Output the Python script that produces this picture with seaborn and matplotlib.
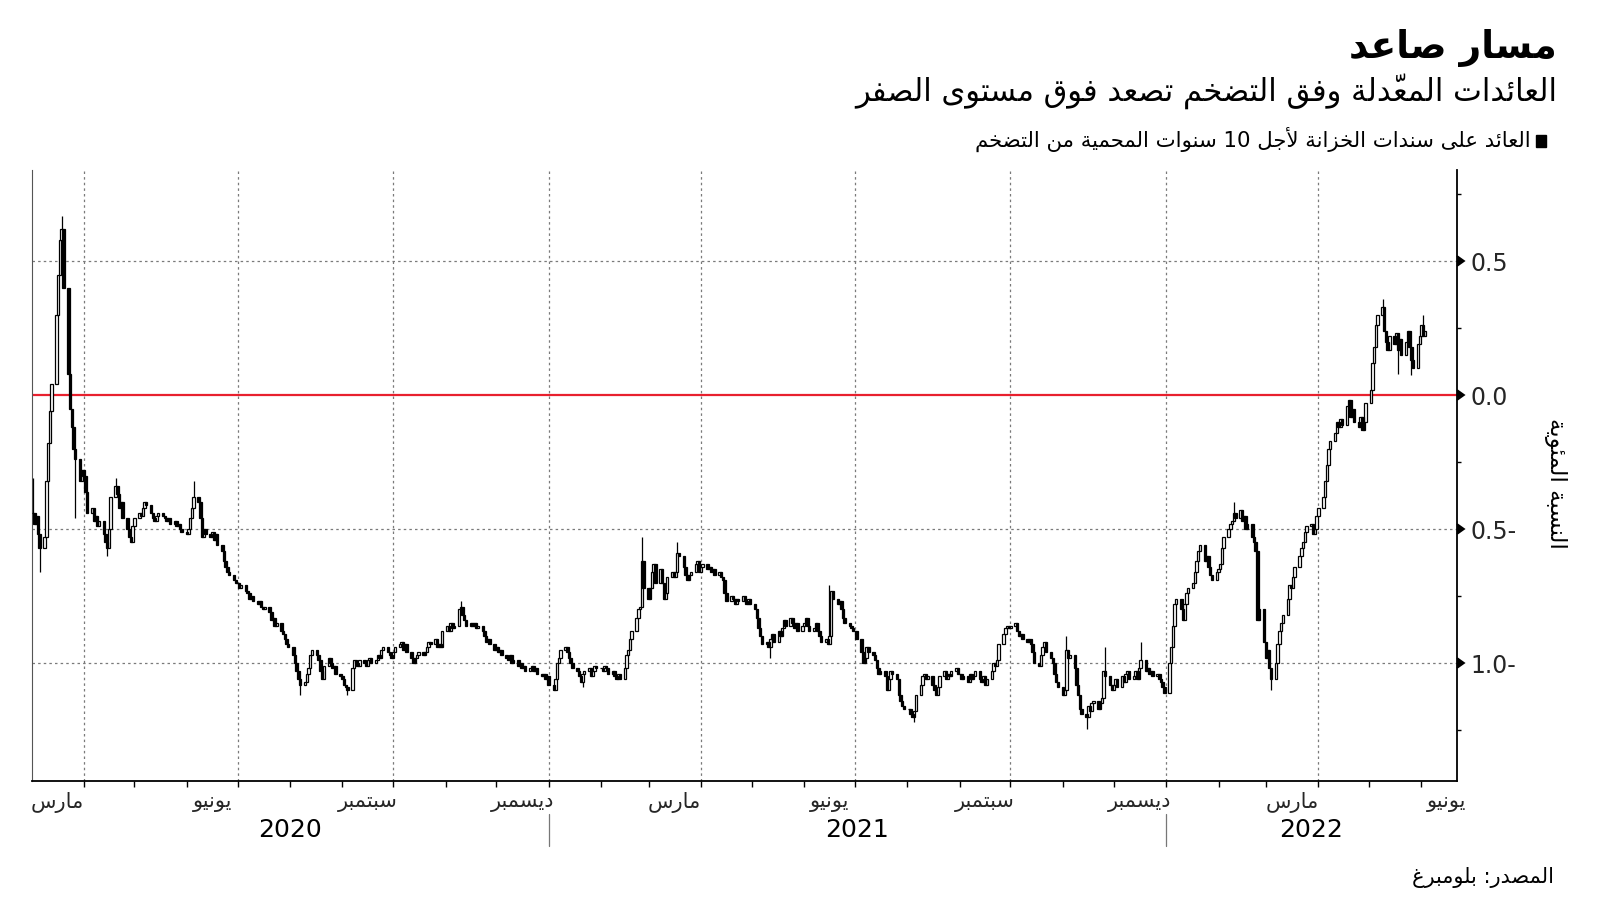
import numpy as np
import pandas as pd
import matplotlib
matplotlib.use("Agg")
import matplotlib.pyplot as plt
import matplotlib.dates as mdates
import matplotlib.transforms as mtransforms
from matplotlib.patches import Rectangle
import seaborn as sns

# ------------------------------------------------------------------ data
# daily closes of the 10-year TIPS yield (%), one list per month (business days)
c2020_03 = [-0.44, -0.48, -0.45, -0.52, -0.57, -0.53, -0.32, -0.18, -0.06, 0.04, 0.30, 0.45, 0.58, 0.62, 0.40, 0.08, -0.05, -0.12, -0.20, -0.24, -0.32, -0.28]
c2020_04 = [-0.30, -0.36, -0.44, -0.42, -0.47, -0.45, -0.49, -0.47, -0.52, -0.55, -0.57, -0.50, -0.38, -0.34, -0.37, -0.42, -0.40, -0.46, -0.50, -0.53, -0.55, -0.49]
c2020_05 = [-0.46, -0.44, -0.45, -0.42, -0.40, -0.41, -0.44, -0.46, -0.47, -0.45, -0.44, -0.45, -0.46, -0.47, -0.46, -0.48, -0.47, -0.49, -0.48, -0.50, -0.51]
c2020_06 = [-0.52, -0.50, -0.46, -0.42, -0.38, -0.40, -0.46, -0.53, -0.50, -0.52, -0.53, -0.51, -0.54, -0.52, -0.56, -0.58, -0.62, -0.64, -0.66, -0.67, -0.69, -0.70]
c2020_07 = [-0.70, -0.72, -0.71, -0.73, -0.74, -0.76, -0.75, -0.77, -0.78, -0.77, -0.79, -0.80, -0.79, -0.81, -0.84, -0.83, -0.86, -0.85, -0.88, -0.89, -0.91, -0.93, -0.94]
c2020_08 = [-0.97, -1.00, -1.03, -1.06, -1.08, -1.07, -1.04, -1.02, -0.97, -0.95, -0.97, -0.99, -1.03, -1.06, -1.01, -0.98, -1.00, -1.02, -1.01, -1.04, -1.05]
c2020_09 = [-1.06, -1.08, -1.09, -1.10, -1.02, -0.99, -1.00, -1.01, -0.99, -1.00, -1.01, -0.99, -0.98, -1.00, -0.99, -0.97, -0.98, -0.95, -0.94, -0.96, -0.97, -0.98]
c2020_10 = [-0.96, -0.94, -0.93, -0.92, -0.95, -0.93, -0.96, -0.98, -1.00, -0.98, -0.97, -0.96, -0.97, -0.96, -0.94, -0.92, -0.93, -0.91, -0.94, -0.93, -0.94, -0.88]
c2020_11 = [-0.86, -0.88, -0.85, -0.87, -0.86, -0.80, -0.79, -0.82, -0.84, -0.86, -0.85, -0.86, -0.85, -0.87, -0.86, -0.88, -0.90, -0.92, -0.91, -0.93, -0.95]
c2020_12 = [-0.94, -0.96, -0.95, -0.97, -0.98, -0.99, -0.97, -1.00, -0.99, -1.01, -1.00, -1.02, -1.01, -1.03, -1.02, -1.01, -1.03, -1.02, -1.04, -1.05, -1.04, -1.06, -1.05]
c2021_01 = [-1.08, -1.10, -1.06, -1.00, -0.98, -0.95, -0.94, -0.96, -0.98, -1.00, -1.02, -1.03, -1.05, -1.07, -1.04, -1.03, -1.02, -1.05, -1.03, -1.01, -1.02]
c2021_02 = [-1.02, -1.03, -1.01, -1.02, -1.04, -1.03, -1.05, -1.06, -1.04, -1.06, -1.02, -0.97, -0.95, -0.91, -0.88, -0.83, -0.80, -0.79, -0.62, -0.72]
c2021_03 = [-0.76, -0.72, -0.66, -0.63, -0.70, -0.65, -0.70, -0.76, -0.74, -0.68, -0.66, -0.68, -0.66, -0.59, -0.60, -0.64, -0.67, -0.69, -0.67, -0.66, -0.63, -0.62, -0.66]
c2021_04 = [-0.64, -0.63, -0.65, -0.64, -0.66, -0.65, -0.67, -0.66, -0.68, -0.69, -0.74, -0.77, -0.75, -0.76, -0.78, -0.76, -0.77, -0.75, -0.77, -0.78, -0.76, -0.78]
c2021_05 = [-0.80, -0.83, -0.87, -0.90, -0.93, -0.92, -0.94, -0.91, -0.89, -0.92, -0.88, -0.90, -0.87, -0.84, -0.86, -0.83, -0.85, -0.87, -0.85, -0.88, -0.86]
c2021_06 = [-0.85, -0.83, -0.86, -0.88, -0.87, -0.85, -0.88, -0.90, -0.92, -0.91, -0.93, -0.90, -0.73, -0.76, -0.78, -0.77, -0.80, -0.83, -0.85, -0.86, -0.87, -0.88]
c2021_07 = [-0.88, -0.91, -0.96, -1.00, -0.98, -0.94, -0.96, -0.97, -0.99, -1.02, -1.04, -1.03, -1.05, -1.10, -1.06, -1.03, -1.04, -1.06, -1.12, -1.14, -1.16, -1.17]
c2021_08 = [-1.17, -1.19, -1.20, -1.18, -1.12, -1.08, -1.05, -1.04, -1.06, -1.05, -1.08, -1.10, -1.12, -1.09, -1.05, -1.03, -1.06, -1.04, -1.05, -1.03, -1.02, -1.04]
c2021_09 = [-1.04, -1.06, -1.05, -1.07, -1.04, -1.06, -1.05, -1.03, -1.06, -1.07, -1.05, -1.08, -1.06, -1.03, -1.00, -1.01, -0.99, -0.93, -0.89, -0.87, -0.86, -0.87]
c2021_10 = [-0.86, -0.85, -0.88, -0.90, -0.89, -0.91, -0.92, -0.91, -0.93, -0.96, -1.00, -1.01, -0.97, -0.94, -0.92, -0.96, -0.98, -1.00, -1.04, -1.07, -1.09]
c2021_11 = [-1.12, -1.10, -0.95, -0.98, -0.97, -1.02, -1.08, -1.12, -1.17, -1.19, -1.20, -1.16, -1.18, -1.15, -1.14, -1.17, -1.15, -1.13, -1.03, -1.05, -1.08, -1.10]
c2021_12 = [-1.08, -1.06, -1.09, -1.05, -1.07, -1.04, -1.03, -1.06, -1.05, -1.03, -1.06, -1.02, -0.99, -1.03, -1.02, -1.04, -1.03, -1.05, -1.04, -1.06, -1.07, -1.09, -1.11]
c2022_01 = [-1.00, -0.94, -0.86, -0.78, -0.76, -0.80, -0.84, -0.78, -0.74, -0.72, -0.70, -0.66, -0.62, -0.58, -0.56, -0.62, -0.60, -0.64, -0.67, -0.69, -0.66]
c2022_02 = [-0.65, -0.63, -0.57, -0.53, -0.50, -0.48, -0.47, -0.44, -0.46, -0.43, -0.47, -0.45, -0.50, -0.48, -0.53, -0.55, -0.58, -0.84, -0.80, -0.92]
c2022_03 = [-0.98, -0.95, -1.02, -1.06, -1.00, -0.93, -0.88, -0.85, -0.82, -0.76, -0.71, -0.72, -0.68, -0.64, -0.60, -0.57, -0.55, -0.51, -0.49, -0.48, -0.52, -0.50, -0.45]
c2022_04 = [-0.42, -0.38, -0.32, -0.26, -0.20, -0.17, -0.14, -0.10, -0.12, -0.09, -0.11, -0.04, -0.02, -0.08, -0.05, -0.10, -0.12, -0.08, -0.13, -0.10, -0.03]
c2022_05 = [0.02, 0.12, 0.18, 0.26, 0.30, 0.33, 0.24, 0.20, 0.17, 0.22, 0.19, 0.23, 0.17, 0.21, 0.15, 0.20, 0.24, 0.18, 0.13, 0.10, 0.19, 0.22]
c2022_06 = [0.26, 0.22, 0.24]

month_series = [
    ("2020-03", c2020_03), ("2020-04", c2020_04), ("2020-05", c2020_05), ("2020-06", c2020_06),
    ("2020-07", c2020_07), ("2020-08", c2020_08), ("2020-09", c2020_09), ("2020-10", c2020_10),
    ("2020-11", c2020_11), ("2020-12", c2020_12), ("2021-01", c2021_01), ("2021-02", c2021_02),
    ("2021-03", c2021_03), ("2021-04", c2021_04), ("2021-05", c2021_05), ("2021-06", c2021_06),
    ("2021-07", c2021_07), ("2021-08", c2021_08), ("2021-09", c2021_09), ("2021-10", c2021_10),
    ("2021-11", c2021_11), ("2021-12", c2021_12), ("2022-01", c2022_01), ("2022-02", c2022_02),
    ("2022-03", c2022_03), ("2022-04", c2022_04), ("2022-05", c2022_05), ("2022-06", c2022_06),
]

# visible intraday extremes (wicks)
wick_high = {"2020-03-02": -0.31, "2020-03-19": 0.67, "2020-04-20": -0.31, "2020-06-05": -0.32,
             "2020-11-10": -0.77, "2021-02-25": -0.53, "2021-03-18": -0.55, "2021-06-16": -0.71,
             "2021-11-03": -0.90, "2021-11-26": -0.94, "2021-12-17": -0.92, "2022-02-10": -0.40,
             "2022-05-09": 0.36, "2022-06-02": 0.30}
wick_low = {"2020-03-06": -0.66, "2020-03-27": -0.46, "2020-04-15": -0.60, "2020-08-07": -1.12,
            "2020-09-04": -1.12, "2021-01-21": -1.09, "2021-05-12": -0.98, "2021-08-05": -1.22,
            "2021-11-15": -1.245, "2022-03-04": -1.10, "2022-05-18": 0.08, "2022-05-26": 0.075}

x_start, x_end = "2020-03-01 12:00", "2022-06-22"
month_labels = {3: "مارس", 6: "يونيو", 9: "سبتمبر", 12: "ديسمبر"}
year_labels = ["2020", "2021", "2022"]
ytick_values = [-1.0, -0.5, 0.0, 0.5]
ytick_labels = ["1.0-", "0.5-", "0.0", "0.5"]
ylim = (-1.44, 0.84)

title = "مسار صاعد"
subtitle = "العائدات المعدّلة وفق التضخم تصعد فوق مستوى الصفر"
legend_label = "العائد على سندات الخزانة لأجل 10 سنوات المحمية من التضخم"
ylabel = "النسبة المئوية"
source = "المصدر: بلومبرغ"

# ------------------------------------------------------------------ Arabic shaping
_DUAL = {0x0626: 0xFE89, 0x0628: 0xFE8F, 0x062A: 0xFE95, 0x062B: 0xFE99, 0x062C: 0xFE9D,
         0x062D: 0xFEA1, 0x062E: 0xFEA5, 0x0633: 0xFEB1, 0x0634: 0xFEB5, 0x0635: 0xFEB9,
         0x0636: 0xFEBD, 0x0637: 0xFEC1, 0x0638: 0xFEC5, 0x0639: 0xFEC9, 0x063A: 0xFECD,
         0x0641: 0xFED1, 0x0642: 0xFED5, 0x0643: 0xFED9, 0x0644: 0xFEDD, 0x0645: 0xFEE1,
         0x0646: 0xFEE5, 0x0647: 0xFEE9, 0x064A: 0xFEF1}
_RIGHT = {0x0622: 0xFE81, 0x0623: 0xFE83, 0x0624: 0xFE85, 0x0625: 0xFE87, 0x0627: 0xFE8D,
          0x0629: 0xFE93, 0x062F: 0xFEA9, 0x0630: 0xFEAB, 0x0631: 0xFEAD, 0x0632: 0xFEAF,
          0x0648: 0xFEED, 0x0649: 0xFEEF}
_ISOL = {0x0621: 0xFE80}
_LAMALEF = {0x0622: 0xFEF5, 0x0623: 0xFEF7, 0x0625: 0xFEF9, 0x0627: 0xFEFB}


def _is_mark(ch):
    o = ord(ch)
    return 0x064B <= o <= 0x065F or o == 0x0670


def ar(text):
    toks = []
    i = 0
    while i < len(text):
        ch = text[i]
        o = ord(ch)
        if _is_mark(ch) and toks:
            toks[-1][2].append(ch)
            i += 1
            continue
        if o == 0x0644 and i + 1 < len(text) and ord(text[i + 1]) in _LAMALEF:
            toks.append(["LA", ord(text[i + 1]), []])
            i += 2
            continue
        if o in _DUAL:
            toks.append(["D", o, []])
        elif o in _RIGHT:
            toks.append(["R", o, []])
        elif o in _ISOL:
            toks.append(["U", o, []])
        else:
            toks.append(["N", o, []])
        i += 1
    n = len(toks)
    glyphs = []
    for k, (kind, o, marks) in enumerate(toks):
        if kind == "N":
            glyphs.append((chr(o), marks))
            continue
        jp = k > 0 and toks[k - 1][0] == "D"
        jn = kind == "D" and k + 1 < n and toks[k + 1][0] in ("D", "R", "LA")
        if kind == "D":
            g = _DUAL[o] + (3 if (jp and jn) else 1 if jp else 2 if jn else 0)
        elif kind == "R":
            g = _RIGHT[o] + (1 if jp else 0)
        elif kind == "LA":
            g = _LAMALEF[o] + (1 if jp else 0)
        else:
            g = _ISOL[o]
        glyphs.append((chr(g), marks))
    clusters = []
    for g, marks in glyphs:
        s = g + "".join(marks)
        isd = g.isdigit()
        if isd and clusters and clusters[-1][1]:
            clusters[-1][0] += s
        else:
            clusters.append([s, isd])
    return "".join(c[0] for c in reversed(clusters))


# ------------------------------------------------------------------ frame
rows = []
for ym, vals in month_series:
    start = pd.Timestamp(ym + "-01")
    days = pd.bdate_range(start, start + pd.offsets.MonthEnd(0))
    for d, v in zip(days, vals):
        rows.append((d, v))
df = pd.DataFrame(rows, columns=["date", "close"])
df["open"] = df["close"].shift(1).fillna(df["close"])
key = df["date"].dt.strftime("%Y-%m-%d")
df["high"] = np.maximum(df[["open", "close"]].max(axis=1), key.map(wick_high).fillna(-9))
df["low"] = np.minimum(df[["open", "close"]].min(axis=1), key.map(wick_low).fillna(9))
df["x"] = mdates.date2num(df["date"])
df["up"] = df["close"] >= df["open"]

# ------------------------------------------------------------------ style
sns.set_theme(style="white")
plt.rcParams["font.family"] = ["DejaVu Sans"]

W, H = 1600, 901
fig = plt.figure(figsize=(W / 100, H / 100), dpi=100)
ax_l, ax_r, ax_t, ax_b = 32, 1457, 170, 781
ax = fig.add_axes([ax_l / W, 1 - ax_b / H, (ax_r - ax_l) / W, (ax_b - ax_t) / H])
ax.set_facecolor("white")

x0, x1 = mdates.date2num(pd.Timestamp(x_start)), mdates.date2num(pd.Timestamp(x_end))
ax.set_xlim(x0, x1)
ax.set_ylim(*ylim)

# grid
grid_kw = dict(color="#7a7a7a", lw=0.9, linestyle=(0, (2, 2.5)), zorder=1)
for v in ytick_values:
    if v != 0:
        ax.axhline(v, **grid_kw)
quarters = [d for d in pd.date_range("2020-01-01", "2022-12-01", freq="QS")
            if x0 < mdates.date2num(d) < x1]
for d in quarters:
    ax.axvline(mdates.date2num(d), **grid_kw)

ax.axhline(0, color="#e8202e", lw=1.6, zorder=2)

# candles
ax.vlines(df["x"], df["low"], df["high"], color="black", lw=0.9, zorder=3)
up = df[df["up"]]
dn = df[~df["up"]]
ax.bar(up["x"], up["close"] - up["open"], bottom=up["open"], width=1.45,
       facecolor="white", edgecolor="black", linewidth=0.9, zorder=4)
ax.bar(dn["x"], dn["close"] - dn["open"], bottom=dn["open"], width=1.45,
       facecolor="black", edgecolor="black", linewidth=0.9, zorder=4)

# spines
ax.spines["top"].set_visible(False)
ax.spines["left"].set_color("#555555")
ax.spines["left"].set_linewidth(0.8)
for s in ("right", "bottom"):
    ax.spines[s].set_color("black")
    ax.spines[s].set_linewidth(1.3)

# y axis (right)
ax.yaxis.tick_right()
ax.set_yticks(ytick_values)
ax.set_yticklabels(ytick_labels, fontsize=17)
ax.set_yticks([-1.25, -0.75, -0.25, 0.25, 0.75], minor=True)
ax.tick_params(axis="y", which="major", length=6.5, width=1.3, pad=3, color="black",
               direction="out", right=True, left=False)
ax.tick_params(axis="y", which="minor", length=3, width=1, color="black",
               direction="out", right=True, left=False)
for t in ax.yaxis.get_major_ticks():
    t.tick2line.set_marker(9)
    t.tick2line.set_markersize(7)
    t.tick2line.set_markerfacecolor("black")

# x axis
month_starts = [d for d in pd.date_range("2020-03-01", "2022-07-01", freq="MS")
                if x0 < mdates.date2num(d) < x1]
ax.set_xticks([mdates.date2num(d) for d in month_starts], minor=True)
lab_pos, lab_txt = [], []
for d in pd.date_range("2020-03-01", "2022-06-01", freq="MS"):
    if d.month in month_labels:
        mid = d + (d + pd.offsets.MonthEnd(0) - d) / 2 + pd.Timedelta(hours=12)
        lab_pos.append(mdates.date2num(mid))
        lab_txt.append(ar(month_labels[d.month]))
ax.set_xticks(lab_pos)
ax.set_xticklabels(lab_txt, fontsize=15)
ax.tick_params(axis="x", which="major", length=0, pad=8)
ax.tick_params(axis="x", which="minor", length=4, width=1, color="black",
               direction="out", bottom=True)

# years
trans = mtransforms.blended_transform_factory(ax.transData, ax.transAxes)
for y in year_labels:
    a = max(x0, mdates.date2num(pd.Timestamp(f"{y}-01-01")))
    b = min(x1, mdates.date2num(pd.Timestamp(f"{int(y) + 1}-01-01")))
    ax.text((a + b) / 2, -0.080, y, transform=trans, ha="center", va="center",
            fontsize=18, color="black")
    if int(y) > 2020:
        xs = mdates.date2num(pd.Timestamp(f"{y}-01-01"))
        ax.plot([xs, xs], [-0.054, -0.106], transform=trans, color="#777777",
                lw=0.9, clip_on=False)

# texts
fig.text(1557 / W, 1 - 48 / H, ar(title), ha="right", va="center", fontsize=27,
         fontweight="bold", color="black")
fig.text(1557 / W, 1 - 91 / H, ar(subtitle), ha="right", va="center", fontsize=22,
         color="black")
fig.patches.append(Rectangle((1536 / W, 1 - 147 / H), 10 / W, 12 / H,
                             transform=fig.transFigure, color="black"))
fig.text(1531 / W, 1 - 139 / H, ar(legend_label), ha="right", va="center", fontsize=15.3,
         color="black")
fig.text(1555 / W, 1 - 483 / H, ar(ylabel), ha="center", va="center", rotation=270,
         fontsize=16.5, color="black")
fig.text(1554 / W, 1 - 877 / H, ar(source), ha="right", va="center", fontsize=15,
         color="black")

fig.savefig("out.png", dpi=100, facecolor="white")
